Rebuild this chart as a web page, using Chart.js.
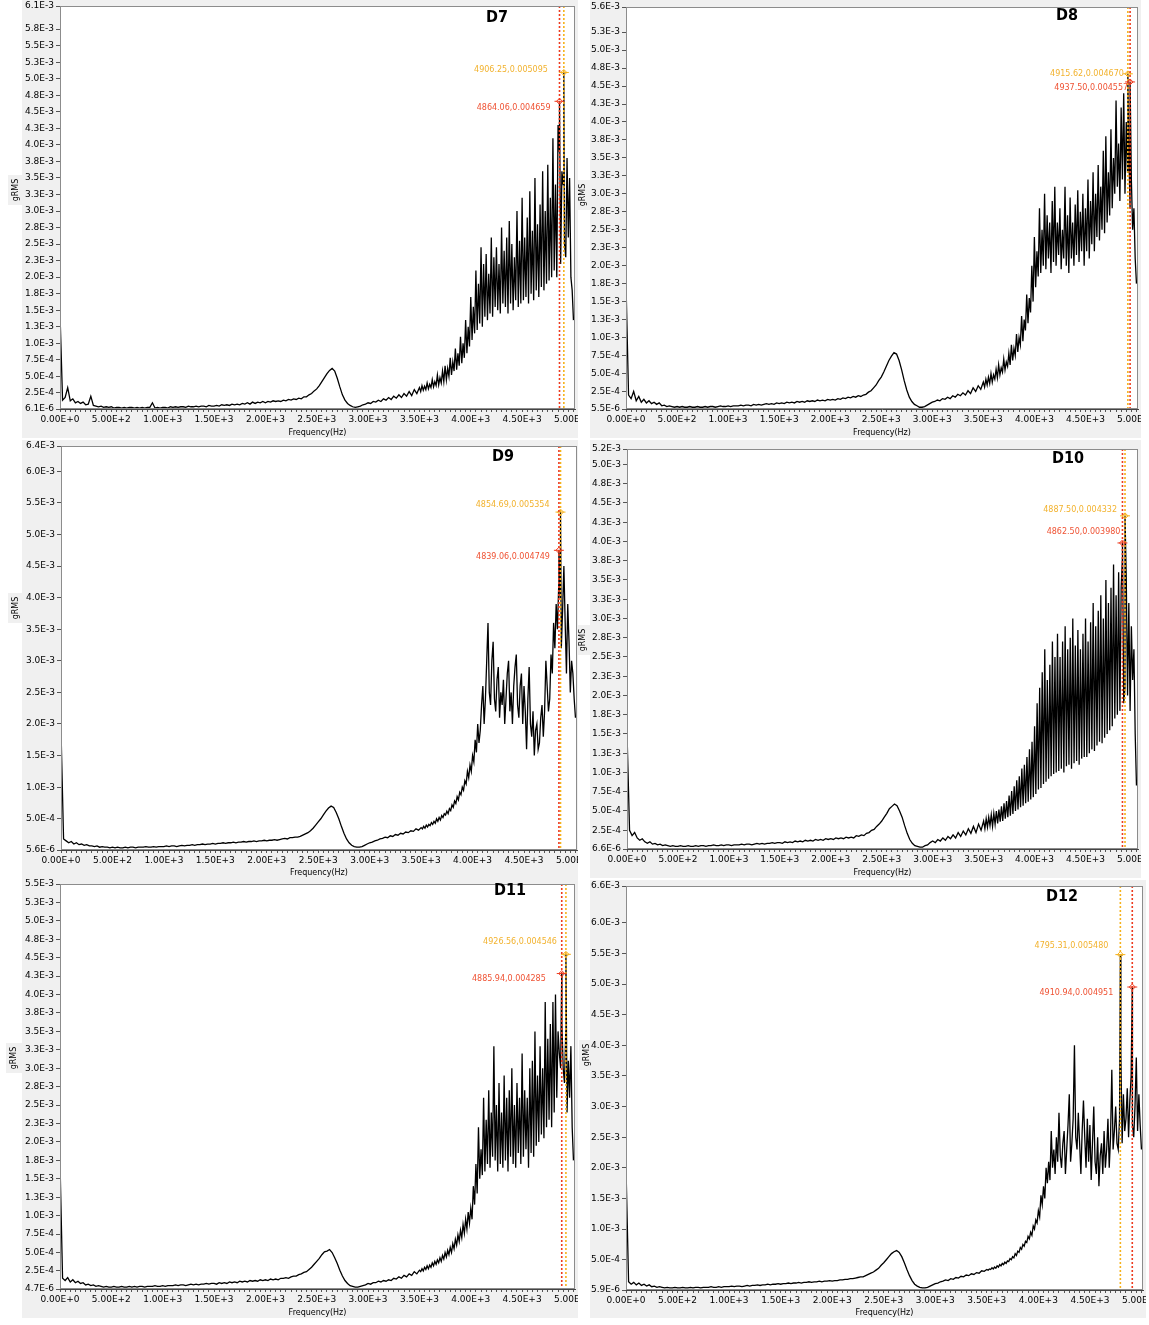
<!DOCTYPE html>
<html>
<head>
<meta charset="utf-8">
<script src="https://cdn.jsdelivr.net/npm/chart.js@4.4.1/dist/chart.umd.min.js"></script>
<style>
  body { margin:0; background:#fff; width:1149px; height:1325px; position:relative; overflow:hidden; }
  canvas { position:absolute; }
</style>
</head>
<body>
<script>
// spectra in 1e-3 gRMS
// low part: every 25 Hz from 0 to 3475 Hz, high part: every 12.5 Hz from 3500 to 5000 Hz
const LOW_STEP_HZ = 25;
const HIGH_START_HZ = 3500;
const HIGH_STEP_HZ = 12.5;
const X_MAX_HZ = 5015;

const freqTickLabels = ['0.00E+0','5.00E+2','1.00E+3','1.50E+3','2.00E+3','2.50E+3','3.00E+3','3.50E+3','4.00E+3','4.50E+3','5.00E+3'];

// --- D7 ---
const d7GrmsLow = [
  1.45,0.14,0.18,0.33, 0.13,0.16,0.10,0.12, 0.09,0.11,0.07,0.08, 0.20,0.06,0.05,0.04, 0.05,0.03,0.04,0.03,
  0.04,0.02,0.03,0.03, 0.02,0.03,0.02,0.03, 0.03,0.02,0.03,0.02, 0.03,0.02,0.03,0.03, 0.10,0.02,0.03,0.02,
  0.03,0.03,0.02,0.04, 0.03,0.04,0.03,0.04, 0.04,0.03,0.05,0.04, 0.04,0.05,0.04,0.05, 0.05,0.04,0.06,0.05,
  0.05,0.06,0.05,0.07, 0.06,0.07,0.06,0.08, 0.07,0.08,0.07,0.09, 0.08,0.10,0.08,0.11, 0.09,0.11,0.10,0.12,
  0.10,0.12,0.11,0.13, 0.12,0.13,0.12,0.14, 0.13,0.15,0.14,0.16, 0.15,0.17,0.16,0.19, 0.19,0.22,0.24,0.28,
  0.31,0.36,0.42,0.48, 0.54,0.59,0.62,0.58, 0.47,0.34,0.22,0.14, 0.09,0.06,0.04,0.03, 0.04,0.05,0.07,0.08,
  0.10,0.09,0.12,0.11, 0.14,0.12,0.16,0.14, 0.18,0.15,0.20,0.17, 0.22,0.18,0.24,0.20, 0.27,0.21,0.30,0.24
];
const d7GrmsHigh = [
  0.33,0.27,0.36,0.29,0.35,0.30,0.40,0.31,0.38,0.33,0.45,0.34,0.42,0.36,0.52,0.37,0.48,0.40,0.58,0.42,
  0.66,0.45,0.62,0.50,0.78,0.52,0.72,0.58,0.92,0.60,0.85,0.66,1.10,0.70,1.00,0.78,1.35,0.85,1.25,0.95,
  1.70,1.05,1.55,1.15,2.10,1.20,1.90,1.30,2.45,1.25,2.20,1.40,2.35,1.35,2.05,1.45,2.60,1.40,2.30,1.55,
  2.45,1.50,2.20,1.45,2.75,1.60,2.40,1.55,2.60,1.45,2.85,1.60,2.50,1.50,2.30,1.65,3.00,1.55,2.55,1.60,
  3.20,1.65,2.60,1.70,2.90,1.60,3.30,1.75,2.70,1.65,3.50,1.80,2.80,1.70,3.10,1.85,3.60,1.80,3.00,1.90,
  3.70,1.95,3.20,2.00,4.10,2.10,3.40,2.00,4.30,3.90,2.20,3.60,3.40,2.50,2.30,3.80,2.60,3.50,2.00,1.80,
  1.35
];
const d7YLabels = ['6.1E-6','2.5E-4','5.0E-4','7.5E-4','1.0E-3','1.3E-3','1.5E-3','1.8E-3','2.0E-3','2.3E-3','2.5E-3','2.8E-3','3.0E-3','3.3E-3','3.5E-3','3.8E-3','4.0E-3','4.3E-3','4.5E-3','4.8E-3','5.0E-3','5.3E-3','5.5E-3','5.8E-3','6.1E-3'];
const d7MarkerHz = [4906.25, 4864.06];
const d7MarkerG = [0.005095, 0.004659];

// --- D8 ---
const d8GrmsLow = [
  1.75,0.20,0.15,0.25, 0.12,0.18,0.10,0.14, 0.09,0.12,0.08,0.10, 0.07,0.09,0.05,0.06, 0.04,0.05,0.04,0.03,
  0.04,0.03,0.04,0.03, 0.03,0.04,0.03,0.03, 0.04,0.03,0.03,0.04, 0.03,0.04,0.04,0.03, 0.04,0.05,0.04,0.04,
  0.05,0.04,0.05,0.05, 0.05,0.06,0.05,0.06, 0.06,0.05,0.07,0.06, 0.07,0.06,0.07,0.08, 0.07,0.08,0.07,0.09,
  0.08,0.09,0.08,0.10, 0.09,0.10,0.09,0.11, 0.10,0.11,0.10,0.12, 0.11,0.12,0.11,0.13, 0.12,0.13,0.12,0.14,
  0.13,0.14,0.13,0.15, 0.14,0.16,0.15,0.17, 0.16,0.18,0.17,0.19, 0.18,0.20,0.21,0.24, 0.26,0.30,0.34,0.40,
  0.45,0.52,0.60,0.68, 0.74,0.79,0.77,0.68, 0.55,0.40,0.27,0.17, 0.11,0.07,0.05,0.03, 0.03,0.04,0.06,0.08,
  0.10,0.11,0.13,0.12, 0.15,0.14,0.17,0.15, 0.19,0.17,0.21,0.19, 0.23,0.20,0.26,0.22, 0.30,0.25,0.33,0.28
];
const d8GrmsHigh = [
  0.38,0.31,0.42,0.34,0.45,0.36,0.50,0.38,0.48,0.42,0.56,0.44,0.62,0.48,0.58,0.52,0.70,0.55,0.66,0.60,
  0.78,0.62,0.90,0.68,0.85,0.75,1.05,0.80,1.00,0.90,1.30,0.95,1.25,1.10,1.60,1.20,1.55,1.35,2.00,1.50,
  2.40,1.70,2.20,1.85,2.80,1.90,2.50,2.00,3.00,1.95,2.70,2.10,2.60,1.90,2.90,2.05,3.10,2.00,2.60,2.15,
  2.80,1.95,2.50,2.10,3.10,2.00,2.70,1.90,2.95,2.10,2.60,2.00,2.85,2.15,3.05,2.05,2.75,2.20,3.00,2.00,
  2.80,2.20,3.20,2.10,2.90,2.30,3.30,2.20,3.00,2.40,3.40,2.35,3.10,2.50,3.60,2.45,3.80,2.60,3.30,2.70,
  3.90,2.80,3.50,3.00,4.30,3.10,3.70,2.90,4.20,3.20,4.40,3.00,4.00,3.30,3.60,2.80,3.20,2.50,2.80,2.10,
  1.75
];
const d8YLabels = ['5.5E-6','2.5E-4','5.0E-4','7.5E-4','1.0E-3','1.3E-3','1.5E-3','1.8E-3','2.0E-3','2.3E-3','2.5E-3','2.8E-3','3.0E-3','3.3E-3','3.5E-3','3.8E-3','4.0E-3','4.3E-3','4.5E-3','4.8E-3','5.0E-3','5.3E-3','5.6E-3'];
const d8MarkerHz = [4915.62, 4937.50];
const d8MarkerG = [0.004670, 0.004557];

// --- D9 ---
const d9GrmsLow = [
  1.90,0.18,0.15,0.12, 0.14,0.10,0.12,0.09, 0.10,0.08,0.09,0.07, 0.07,0.06,0.07,0.05, 0.06,0.05,0.05,0.04,
  0.05,0.04,0.05,0.04, 0.04,0.05,0.04,0.05, 0.05,0.04,0.05,0.05, 0.05,0.06,0.05,0.05, 0.06,0.05,0.06,0.06,
  0.06,0.07,0.06,0.07, 0.07,0.06,0.07,0.08, 0.07,0.08,0.08,0.09, 0.08,0.09,0.09,0.10, 0.09,0.10,0.10,0.11,
  0.10,0.11,0.11,0.12, 0.11,0.12,0.12,0.13, 0.12,0.13,0.13,0.14, 0.13,0.14,0.14,0.15, 0.14,0.15,0.15,0.16,
  0.15,0.16,0.16,0.17, 0.16,0.17,0.18,0.19, 0.18,0.20,0.20,0.21, 0.21,0.22,0.24,0.26, 0.28,0.31,0.35,0.40,
  0.45,0.50,0.56,0.62, 0.67,0.70,0.68,0.60, 0.50,0.38,0.27,0.18, 0.12,0.08,0.06,0.05, 0.05,0.06,0.08,0.10,
  0.12,0.13,0.15,0.16, 0.18,0.19,0.21,0.20, 0.23,0.22,0.25,0.24, 0.27,0.26,0.29,0.28, 0.31,0.30,0.34,0.32
];
const d9GrmsHigh = [
  0.36,0.34,0.38,0.35,0.40,0.37,0.41,0.39,0.44,0.41,0.46,0.43,0.50,0.46,0.52,0.48,0.55,0.52,0.58,0.56,
  0.62,0.58,0.66,0.63,0.72,0.68,0.78,0.74,0.85,0.80,0.92,0.88,1.00,0.95,1.10,1.05,1.25,1.15,1.35,1.25,
  1.50,1.40,1.75,1.55,2.00,1.70,1.90,2.30,2.60,2.00,2.40,3.00,3.60,2.50,2.30,3.00,3.30,2.40,2.20,2.70,
  2.90,2.10,2.50,2.30,2.70,2.00,2.40,2.80,3.00,2.20,2.50,2.00,2.60,2.90,3.10,2.30,2.10,2.60,2.80,2.00,
  2.60,2.20,1.60,2.40,2.90,2.00,1.80,2.20,1.50,1.90,2.00,1.60,1.70,2.10,2.30,1.80,2.20,3.00,2.60,2.20,
  2.40,3.10,2.80,3.60,3.20,3.90,3.50,4.20,4.00,3.20,3.80,4.50,3.60,2.80,3.90,3.30,2.50,3.00,2.80,2.40,
  2.10
];
const d9YLabels = ['5.6E-6','5.0E-4','1.0E-3','1.5E-3','2.0E-3','2.5E-3','3.0E-3','3.5E-3','4.0E-3','4.5E-3','5.0E-3','5.5E-3','6.0E-3','6.4E-3'];
const d9MarkerHz = [4854.69, 4839.06];
const d9MarkerG = [0.005354, 0.004749];

// --- D10 ---
const d10GrmsLow = [
  1.52,0.25,0.18,0.22, 0.15,0.12,0.14,0.10, 0.08,0.10,0.07,0.08, 0.06,0.07,0.05,0.06, 0.05,0.04,0.05,0.04,
  0.04,0.05,0.04,0.04, 0.05,0.04,0.04,0.05, 0.04,0.05,0.05,0.04, 0.05,0.05,0.06,0.05, 0.05,0.06,0.05,0.06,
  0.06,0.05,0.06,0.06, 0.06,0.07,0.06,0.07, 0.07,0.06,0.07,0.08, 0.07,0.08,0.07,0.08, 0.08,0.09,0.08,0.09,
  0.09,0.08,0.10,0.09, 0.10,0.09,0.11,0.10, 0.11,0.10,0.12,0.11, 0.12,0.11,0.13,0.12, 0.13,0.12,0.14,0.13,
  0.14,0.13,0.15,0.14, 0.15,0.14,0.16,0.15, 0.16,0.15,0.18,0.17, 0.19,0.18,0.21,0.22, 0.25,0.26,0.30,0.33,
  0.37,0.42,0.47,0.53, 0.56,0.59,0.57,0.50, 0.42,0.31,0.21,0.13, 0.08,0.05,0.04,0.03, 0.03,0.05,0.06,0.09,
  0.11,0.09,0.13,0.11, 0.15,0.12,0.17,0.14, 0.19,0.15,0.22,0.17, 0.24,0.19,0.27,0.21, 0.30,0.22,0.33,0.25
];
const d10GrmsHigh = [
  0.37,0.27,0.40,0.29,0.42,0.31,0.45,0.30,0.47,0.33,0.50,0.34,0.52,0.36,0.56,0.37,0.60,0.40,0.63,0.42,
  0.70,0.44,0.76,0.46,0.82,0.50,0.90,0.52,0.95,0.55,1.05,0.57,1.10,0.60,1.20,0.62,1.30,0.65,1.40,0.68,
  1.60,0.72,1.90,0.78,2.10,0.80,2.30,0.85,2.60,0.88,2.20,0.92,2.40,0.95,2.70,0.98,2.50,1.00,2.80,1.02,
  2.50,1.05,2.70,1.00,2.90,1.08,2.60,1.10,2.75,1.05,3.00,1.12,2.65,1.15,2.85,1.10,2.60,1.18,2.80,1.20,
  3.00,1.20,2.70,1.25,2.95,1.30,3.20,1.28,2.90,1.35,3.10,1.40,3.30,1.38,3.00,1.45,3.50,1.50,3.20,1.55,
  3.40,1.60,3.70,1.70,3.30,1.75,3.60,1.80,3.40,3.80,1.90,2.10,3.50,2.00,3.20,1.80,2.90,2.20,2.60,1.50,
  0.83
];
const d10YLabels = ['6.6E-6','2.5E-4','5.0E-4','7.5E-4','1.0E-3','1.3E-3','1.5E-3','1.8E-3','2.0E-3','2.3E-3','2.5E-3','2.8E-3','3.0E-3','3.3E-3','3.5E-3','3.8E-3','4.0E-3','4.3E-3','4.5E-3','4.8E-3','5.0E-3','5.2E-3'];
const d10MarkerHz = [4887.50, 4862.50];
const d10MarkerG = [0.004332, 0.003980];

// --- D11 ---
const d11GrmsLow = [
  1.72,0.15,0.12,0.16, 0.10,0.13,0.09,0.11, 0.08,0.09,0.06,0.07, 0.05,0.06,0.04,0.05, 0.04,0.03,0.04,0.03,
  0.03,0.04,0.03,0.03, 0.04,0.03,0.03,0.04, 0.03,0.04,0.03,0.04, 0.04,0.03,0.04,0.04, 0.04,0.05,0.04,0.04,
  0.05,0.04,0.05,0.05, 0.05,0.06,0.05,0.06, 0.06,0.05,0.06,0.07, 0.06,0.07,0.06,0.07, 0.07,0.08,0.07,0.08,
  0.08,0.07,0.09,0.08, 0.09,0.08,0.10,0.09, 0.10,0.09,0.11,0.10, 0.11,0.10,0.12,0.11, 0.12,0.11,0.13,0.12,
  0.13,0.12,0.14,0.13, 0.14,0.13,0.15,0.15, 0.16,0.15,0.17,0.18, 0.18,0.20,0.21,0.23, 0.24,0.27,0.30,0.34,
  0.38,0.42,0.47,0.51, 0.52,0.54,0.50,0.43, 0.35,0.26,0.18,0.12, 0.08,0.05,0.04,0.03, 0.03,0.04,0.05,0.06,
  0.08,0.07,0.09,0.09, 0.11,0.10,0.12,0.11, 0.13,0.12,0.15,0.14, 0.17,0.15,0.19,0.17, 0.21,0.19,0.24,0.21
];
const d11GrmsHigh = [
  0.26,0.24,0.28,0.25,0.30,0.27,0.32,0.28,0.33,0.30,0.36,0.32,0.38,0.34,0.40,0.36,0.43,0.38,0.46,0.41,
  0.50,0.44,0.53,0.47,0.57,0.50,0.62,0.55,0.68,0.60,0.74,0.65,0.80,0.70,0.88,0.76,0.95,0.82,1.05,0.90,
  1.10,0.95,1.40,1.15,1.70,1.30,2.20,1.50,1.90,1.55,2.60,1.60,2.30,1.70,2.70,1.65,2.40,1.80,3.30,1.75,
  2.50,1.60,2.80,1.70,2.40,1.65,2.90,1.75,2.60,1.60,2.70,1.80,3.00,1.70,2.50,1.65,2.80,1.85,2.60,1.70,
  3.20,1.80,2.70,1.90,2.60,1.65,3.00,1.85,3.10,1.80,3.50,1.95,2.90,2.00,3.30,2.10,3.00,2.05,3.90,2.20,
  3.40,2.30,3.60,2.20,3.90,2.40,4.00,2.60,3.50,3.20,3.00,3.60,3.00,2.80,3.50,2.40,3.10,2.60,3.30,2.20,
  1.75
];
const d11YLabels = ['4.7E-6','2.5E-4','5.0E-4','7.5E-4','1.0E-3','1.3E-3','1.5E-3','1.8E-3','2.0E-3','2.3E-3','2.5E-3','2.8E-3','3.0E-3','3.3E-3','3.5E-3','3.8E-3','4.0E-3','4.3E-3','4.5E-3','4.8E-3','5.0E-3','5.3E-3','5.5E-3'];
const d11MarkerHz = [4926.56, 4885.94];
const d11MarkerG = [0.004546, 0.004285];

// --- D12 ---
const d12GrmsLow = [
  2.00,0.14,0.10,0.13, 0.09,0.12,0.08,0.10, 0.07,0.09,0.06,0.07, 0.05,0.06,0.05,0.04, 0.05,0.04,0.04,0.05,
  0.04,0.04,0.05,0.04, 0.04,0.05,0.04,0.05, 0.05,0.04,0.05,0.05, 0.05,0.06,0.05,0.05, 0.06,0.05,0.06,0.06,
  0.06,0.07,0.06,0.07, 0.07,0.06,0.07,0.08, 0.07,0.08,0.08,0.09, 0.08,0.09,0.09,0.10, 0.09,0.10,0.10,0.11,
  0.10,0.11,0.11,0.12, 0.11,0.12,0.12,0.13, 0.12,0.13,0.13,0.14, 0.13,0.14,0.14,0.15, 0.14,0.15,0.15,0.16,
  0.15,0.16,0.16,0.17, 0.17,0.18,0.18,0.19, 0.19,0.20,0.21,0.22, 0.22,0.24,0.26,0.28, 0.30,0.33,0.36,0.41,
  0.45,0.50,0.55,0.60, 0.63,0.65,0.62,0.55, 0.45,0.34,0.24,0.16, 0.10,0.07,0.05,0.04, 0.04,0.05,0.07,0.09,
  0.11,0.12,0.14,0.15, 0.17,0.16,0.19,0.18, 0.21,0.20,0.23,0.22, 0.25,0.24,0.27,0.26, 0.29,0.28,0.32,0.31
];
const d12GrmsHigh = [
  0.34,0.33,0.35,0.34,0.37,0.35,0.38,0.36,0.40,0.38,0.42,0.40,0.44,0.42,0.46,0.44,0.48,0.47,0.52,0.50,
  0.55,0.53,0.60,0.57,0.64,0.62,0.70,0.67,0.75,0.72,0.80,0.78,0.88,0.84,0.95,0.90,1.05,1.00,1.15,1.10,
  1.30,1.20,1.55,1.40,1.70,1.50,2.00,1.75,2.10,1.80,2.60,2.00,2.30,1.90,2.50,2.10,2.90,2.20,2.00,2.40,
  2.60,1.90,2.30,2.70,3.20,2.10,2.40,2.80,4.00,2.50,2.30,2.90,2.40,1.90,2.60,3.10,2.50,2.00,2.80,2.10,
  2.70,1.80,2.40,3.00,2.10,1.90,2.50,1.70,2.20,2.40,1.90,2.60,2.00,2.30,2.80,2.00,2.50,3.60,2.30,2.60,
  3.00,2.40,2.30,2.80,3.90,2.40,3.20,2.60,2.80,3.30,2.50,3.10,3.50,2.70,2.50,3.00,3.80,2.60,3.20,2.70,
  2.30
];
const d12YLabels = ['5.9E-6','5.0E-4','1.0E-3','1.5E-3','2.0E-3','2.5E-3','3.0E-3','3.5E-3','4.0E-3','4.5E-3','5.0E-3','5.5E-3','6.0E-3','6.6E-3'];
const d12MarkerHz = [4795.31, 4910.94];
const d12MarkerG = [0.005480, 0.004951];

// marker 0 = yellow cursor, marker 1 = red cursor
const MARKER_LINE = ['#f6b21c', '#ee3b1f'];
const MARKER_TEXT = ['#f2b22e', '#ef5233'];
const PANEL_BG = '#f0f0f0';
const FONT = '"DejaVu Sans", Verdana, sans-serif';
const TITLE_FONT = 'bold 16px "Liberation Sans Narrow", "DejaVu Sans Condensed", Arial, sans-serif';

// canvas box, plot rect [l,t,r,b] inside it, text spots
const panels = [
  { name:'D7', low:d7GrmsLow, high:d7GrmsHigh, yLabels:d7YLabels, markerHz:d7MarkerHz, markerG:d7MarkerG,
    box:{ left:0, top:0, w:578, h:440, plot:[60,6,575,409], bgLeft:22, grms:[16,190], title:[497,18], shift:[[-16,-3],[-9,7]] } },
  { name:'D8', low:d8GrmsLow, high:d8GrmsHigh, yLabels:d8YLabels, markerHz:d8MarkerHz, markerG:d8MarkerG,
    box:{ left:578, top:0, w:563, h:440, plot:[48,7,560,409], bgLeft:12, grms:[5,195], title:[489,16], shift:[[-4,0],[-2,6]] } },
  { name:'D9', low:d9GrmsLow, high:d9GrmsHigh, yLabels:d9YLabels, markerHz:d9MarkerHz, markerG:d9MarkerG,
    box:{ left:0, top:440, w:578, h:440, plot:[61,6,577,410], bgLeft:22, grms:[16,168], title:[503,17], shift:[[-11,-7],[-9,7]] } },
  { name:'D10', low:d10GrmsLow, high:d10GrmsHigh, yLabels:d10YLabels, markerHz:d10MarkerHz, markerG:d10MarkerG,
    box:{ left:578, top:440, w:563, h:440, plot:[49,9,560,409], bgLeft:12, grms:[5,200], title:[490,19], shift:[[-8,-6],[-2,-11]] } },
  { name:'D11', low:d11GrmsLow, high:d11GrmsHigh, yLabels:d11YLabels, markerHz:d11MarkerHz, markerG:d11MarkerG,
    box:{ left:0, top:878, w:578, h:442, plot:[60,6,575,411], bgLeft:22, grms:[14,180], title:[510,13], shift:[[-9,-12],[-16,5]] } },
  { name:'D12', low:d12GrmsLow, high:d12GrmsHigh, yLabels:d12YLabels, markerHz:d12MarkerHz, markerG:d12MarkerG,
    box:{ left:578, top:880, w:568, h:440, plot:[48,6,565,410], bgLeft:12, grms:[9,175], title:[484,17], shift:[[-12,-9],[-19,6]] } }
];

Chart.defaults.font.family = FONT;
Chart.defaults.color = '#000';

function spectrumPoints(p) {
  const pts = p.low.map((v, i) => ({ x: i * LOW_STEP_HZ, y: v }))
    .concat(p.high.map((v, i) => ({ x: HIGH_START_HZ + i * HIGH_STEP_HZ, y: v })));
  p.markerHz.forEach((hz, k) => pts.push({ x: hz, y: p.markerG[k] * 1000 }));
  return pts.sort((a, b) => a.x - b.x);
}

function makeDecor(p) {
  const b = p.box;
  return {
    id: 'decor' + p.name,
    beforeDraw(chart) {
      const { ctx, chartArea: a, width, height } = chart;
      ctx.save();
      ctx.fillStyle = PANEL_BG;
      ctx.fillRect(b.bgLeft, 0, width - b.bgLeft, height - 2);
      ctx.fillRect(b.grms[0] - 8, b.grms[1] - 15, 16, 30);
      ctx.fillStyle = '#fff';
      ctx.fillRect(a.left, a.top, a.right - a.left, a.bottom - a.top);
      ctx.restore();
    },
    afterDatasetsDraw(chart) {
      const { ctx, chartArea: a, scales } = chart;
      ctx.save();
      p.markerHz.forEach((hz, k) => {
        const px = scales.x.getPixelForValue(hz);
        const py = scales.y.getPixelForValue(p.markerG[k] * 1000);
        ctx.strokeStyle = MARKER_LINE[k];
        ctx.lineWidth = 1.6;
        ctx.setLineDash([2, 2]);
        ctx.beginPath(); ctx.moveTo(px, a.top); ctx.lineTo(px, a.bottom); ctx.stroke();
        ctx.setLineDash([]);
        ctx.lineWidth = 1;
        ctx.beginPath();
        ctx.moveTo(px - 5, py); ctx.lineTo(px + 5, py);
        ctx.moveTo(px, py - 3); ctx.lineTo(px + 3, py); ctx.lineTo(px, py + 3); ctx.lineTo(px - 3, py); ctx.closePath();
        ctx.stroke();
        ctx.fillStyle = MARKER_TEXT[k];
        ctx.font = '8px ' + FONT;
        ctx.textAlign = 'right';
        ctx.textBaseline = 'middle';
        const txt = hz.toFixed(2) + ',' + p.markerG[k].toFixed(6);
        ctx.fillText(txt, px + b.shift[k][0], py + b.shift[k][1]);
      });
      ctx.restore();
    },
    afterDraw(chart) {
      const { ctx, chartArea: a } = chart;
      ctx.save();
      ctx.strokeStyle = '#8c8c8c';
      ctx.lineWidth = 1;
      ctx.strokeRect(a.left + 0.5, a.top + 0.5, a.right - a.left - 1, a.bottom - a.top - 1);
      ctx.fillStyle = '#000';
      ctx.font = TITLE_FONT;
      ctx.textAlign = 'center';
      ctx.textBaseline = 'middle';
      ctx.fillText(p.name, b.title[0], b.title[1]);
      ctx.translate(b.grms[0], b.grms[1]);
      ctx.rotate(-Math.PI / 2);
      ctx.font = '8px ' + FONT;
      ctx.fillText('gRMS', 0, 0);
      ctx.restore();
    }
  };
}

panels.forEach(p => {
  const b = p.box;
  const cv = document.createElement('canvas');
  cv.width = b.w; cv.height = b.h;
  cv.style.left = b.left + 'px';
  cv.style.top = b.top + 'px';
  document.body.appendChild(cv);

  const yMin = parseFloat(p.yLabels[0]) * 1000;
  const yMax = parseFloat(p.yLabels[p.yLabels.length - 1]) * 1000;
  const yStep = parseFloat(p.yLabels[1]) * 1000;

  new Chart(cv, {
    type: 'line',
    data: {
      datasets: [{
        data: spectrumPoints(p),
        borderColor: '#000', borderWidth: 1.3, pointRadius: 0, tension: 0
      }]
    },
    options: {
      responsive: false, animation: false, events: [],
      layout: { autoPadding: false, padding: { left: 0, top: b.plot[1], right: b.w - b.plot[2], bottom: 0 } },
      plugins: { legend: { display: false }, tooltip: { enabled: false } },
      scales: {
        x: {
          type: 'linear', min: 0, max: X_MAX_HZ,
          afterBuildTicks: s => {
            const t = [];
            for (let f = 0; f <= 5000; f += 50) t.push({ value: f });
            s.ticks = t;
          },
          afterFit: s => { s.height = b.h - b.plot[3]; s.paddingLeft = 0; s.paddingRight = 0; },
          ticks: {
            autoSkip: false, maxRotation: 0, padding: 2, font: { size: 9 },
            callback: v => (v % 500 === 0 ? freqTickLabels[v / 500] : '')
          },
          grid: { drawOnChartArea: false, tickLength: 3, color: '#555' },
          border: { color: '#444' },
          title: { display: true, text: 'Frequency(Hz)', font: { size: 8 }, padding: { top: 0, bottom: 2 } }
        },
        y: {
          type: 'linear', min: yMin, max: yMax,
          afterBuildTicks: s => {
            s.ticks = p.yLabels.map((_, k, arr) => ({
              value: k === 0 ? yMin : (k === arr.length - 1 ? yMax : k * yStep)
            }));
          },
          afterFit: s => { s.width = b.plot[0]; s.paddingTop = 0; s.paddingBottom = 0; },
          ticks: { autoSkip: false, padding: 2, font: { size: 9 }, callback: (v, i) => p.yLabels[i] },
          grid: { drawOnChartArea: false, tickLength: 4, color: '#555' },
          border: { color: '#444' }
        }
      }
    },
    plugins: [makeDecor(p)]
  });
});
</script>
</body>
</html>
